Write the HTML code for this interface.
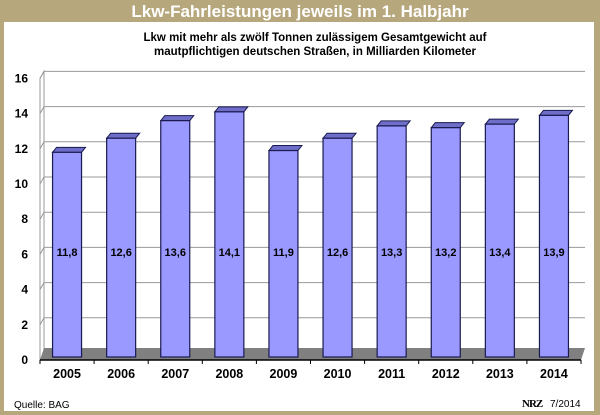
<!DOCTYPE html>
<html><head><meta charset="utf-8"><style>
body{margin:0;width:600px;height:415px;overflow:hidden;background:#b7a77c;font-family:"Liberation Sans",sans-serif}
#panel{position:absolute;left:4px;top:22px;width:590px;height:389px;background:#fff}
</style></head><body>
<div>
<div id="panel"></div>
<svg width="600" height="415" style="position:absolute;left:0;top:0">
<text x="300" y="17" text-anchor="middle" font-size="17" font-weight="bold" fill="#fff">Lkw-Fahrleistungen jeweils im 1. Halbjahr</text>
<text x="315" y="41" text-anchor="middle" font-size="11.5" font-weight="bold">Lkw mit mehr als zwölf Tonnen zulässigem Gesamtgewicht auf</text>
<text x="315" y="55" text-anchor="middle" font-size="11.5" font-weight="bold">mautpflichtigen deutschen Straßen, in Milliarden Kilometer</text>
<g id="g"></g>
<text x="14" y="408" font-size="10">Quelle: BAG</text>
<text x="522" y="407" font-size="11" font-weight="bold" font-family="Liberation Serif" letter-spacing="-1">NRZ</text>
<text x="550" y="407" font-size="10">7/2014</text>
</svg></div>
<script>
const categories=["2005","2006","2007","2008","2009","2010","2011","2012","2013","2014"];
const values=[11.8,12.6,13.6,14.1,11.9,12.6,13.3,13.2,13.4,13.9];
const valueLabels=["11,8","12,6","13,6","14,1","11,9","12,6","13,3","13,2","13,4","13,9"];
const yTicks=[0,2,4,6,8,10,12,14,16];
const NS="http://www.w3.org/2000/svg",g=document.getElementById('g');
const y0=360,k=17.6,dx=4,dy=-7,fdy=-12,xl=40,xr=581;
const y=v=>y0-v*k;
const step=(xr-xl)/categories.length;
const x=i=>xl+step*(i+0.5);
function mk(t,a){const e=document.createElementNS(NS,t);for(const n in a)e.setAttribute(n,a[n]);g.appendChild(e);return e;}
let e;
e=mk('polygon',{points:`${xl},${y0} ${xl+dx},${y0+dy} ${xl+dx},${y(16)+dy} ${xl},${y(16)}`,fill:'#fff',stroke:'#999','stroke-width':1});

yTicks.forEach(t=>{
 if(t>0){e=mk('polyline',{points:`${xl},${y(t)} ${xl+dx},${y(t)+dy} ${xr+dx},${y(t)+dy}`,fill:'none',stroke:'#999','stroke-width':1});
 }
 e=mk('text',{x:28,y:y(t)+4,'text-anchor':'end','font-size':12,'font-weight':'bold'});e.textContent=t;
 
});
e=mk('polygon',{points:`${xl},${y0} ${xl+dx},${y0+fdy} ${xr+dx},${y0+fdy} ${xr},${y0}`,fill:'#808080'});

e=mk('line',{x1:xl,y1:y0,x2:xr,y2:y0,stroke:'#000','stroke-width':1.5});

for(let i=0;i<=categories.length;i++){e=mk('line',{x1:xl+step*i,y1:y0,x2:xl+step*i,y2:y0+4,stroke:'#000'});
 }
const bw=29;
values.forEach((v,i)=>{
 const cx=x(i),l=cx-bw/2,t=y(v),b=y0-3;
 e=mk('polygon',{points:`${l},${t} ${l+dx},${t-5} ${l+bw+dx},${t-5} ${l+bw},${t}`,fill:'#6e6ec8',stroke:'#1a1a50','stroke-width':1});
 
 e=mk('rect',{x:l,y:t,width:bw,height:b-t,fill:'#9999ff',stroke:'#1a1a50','stroke-width':1.2});
 
 e=mk('text',{x:cx,y:256,'text-anchor':'middle','font-size':11,'font-weight':'bold'});e.textContent=valueLabels[i];
 
 e=mk('text',{x:cx,y:378,'text-anchor':'middle','font-size':12.5,'font-weight':'bold'});e.textContent=categories[i];
 
});
</script></body></html>
